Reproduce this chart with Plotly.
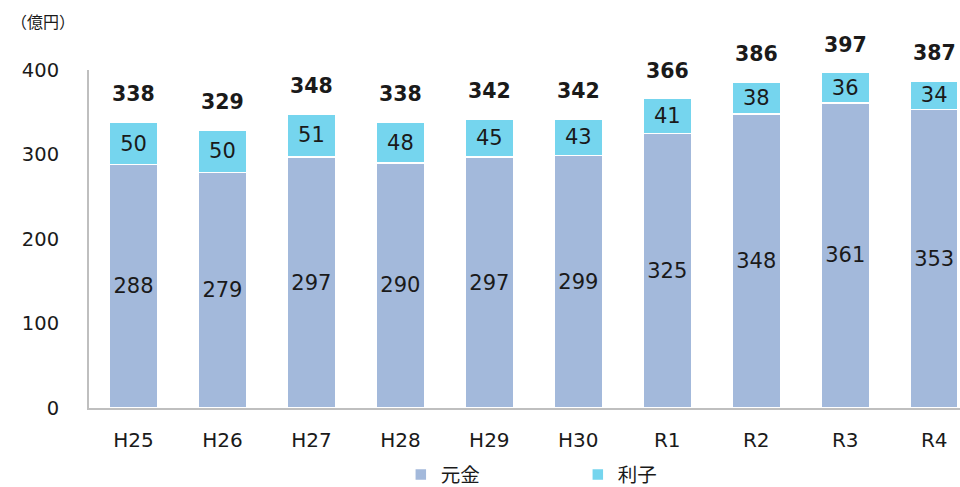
import plotly.graph_objects as go

# Fiscal years and repayment amounts (億円)
years = ["H25", "H26", "H27", "H28", "H29", "H30", "R1", "R2", "R3", "R4"]
principal = [288, 279, 297, 290, 297, 299, 325, 348, 361, 353]
interest = [50, 50, 51, 48, 45, 43, 41, 38, 36, 34]
totals = [338, 329, 348, 338, 342, 342, 366, 386, 397, 387]

FONT = "DejaVu Sans, Verdana, Noto Sans CJK JP, sans-serif"
TEXT = "#1a1a1a"

fig = go.Figure()
fig.add_bar(
    x=years, y=principal, name="元金",
    marker=dict(color="#A3B9DB", line=dict(color="white", width=1.5)),
    text=principal, textposition="inside", insidetextanchor="middle", textangle=0,
    textfont=dict(size=21, color=TEXT, family=FONT), constraintext="none",
)
fig.add_bar(
    x=years, y=interest, name="利子",
    marker=dict(color="#75D5EE", line=dict(color="white", width=1.5)),
    text=interest, textposition="inside", insidetextanchor="middle", textangle=0,
    textfont=dict(size=21, color=TEXT, family=FONT), constraintext="none",
)

# Totals above each stack
total_labels = [
    dict(x=yr, y=t, text=f"<b>{t}</b>", showarrow=False, xref="x", yref="y",
         yanchor="middle", yshift=28,
         font=dict(size=20.5, color=TEXT, family=FONT))
    for yr, t in zip(years, totals)
]
unit_label = dict(
    text="（億円）", xref="paper", yref="paper", x=-0.092, y=1.142,
    xanchor="left", yanchor="middle", showarrow=False,
    font=dict(size=16, color=TEXT, family=FONT),
)

fig.update_layout(
    width=960, height=487,
    barmode="stack", bargap=0.46,
    plot_bgcolor="white", paper_bgcolor="white",
    margin=dict(l=89, r=0, t=70, b=79),
    font=dict(family=FONT, color=TEXT, size=18),
    showlegend=True,
    legend=dict(
        orientation="h", x=0.358, xanchor="left",
        yref="container", y=0.025, yanchor="middle",
        font=dict(size=19.5, color=TEXT, family=FONT),
        entrywidth=132, entrywidthmode="pixels", traceorder="normal",
    ),
    annotations=total_labels + [unit_label],
)
fig.update_xaxes(
    range=[-0.5, 9.29], showline=True, linecolor="#BFBFBF", linewidth=2,
    ticks="", tickfont=dict(size=20), ticklabelstandoff=13,
)
fig.update_yaxes(
    range=[0, 400], tickvals=[0, 100, 200, 300, 400], showgrid=False,
    showline=True, linecolor="#BFBFBF", linewidth=2, zeroline=False,
    ticks="", tickfont=dict(size=19.5), ticklabelstandoff=24,
)

fig.write_html("out.html")
